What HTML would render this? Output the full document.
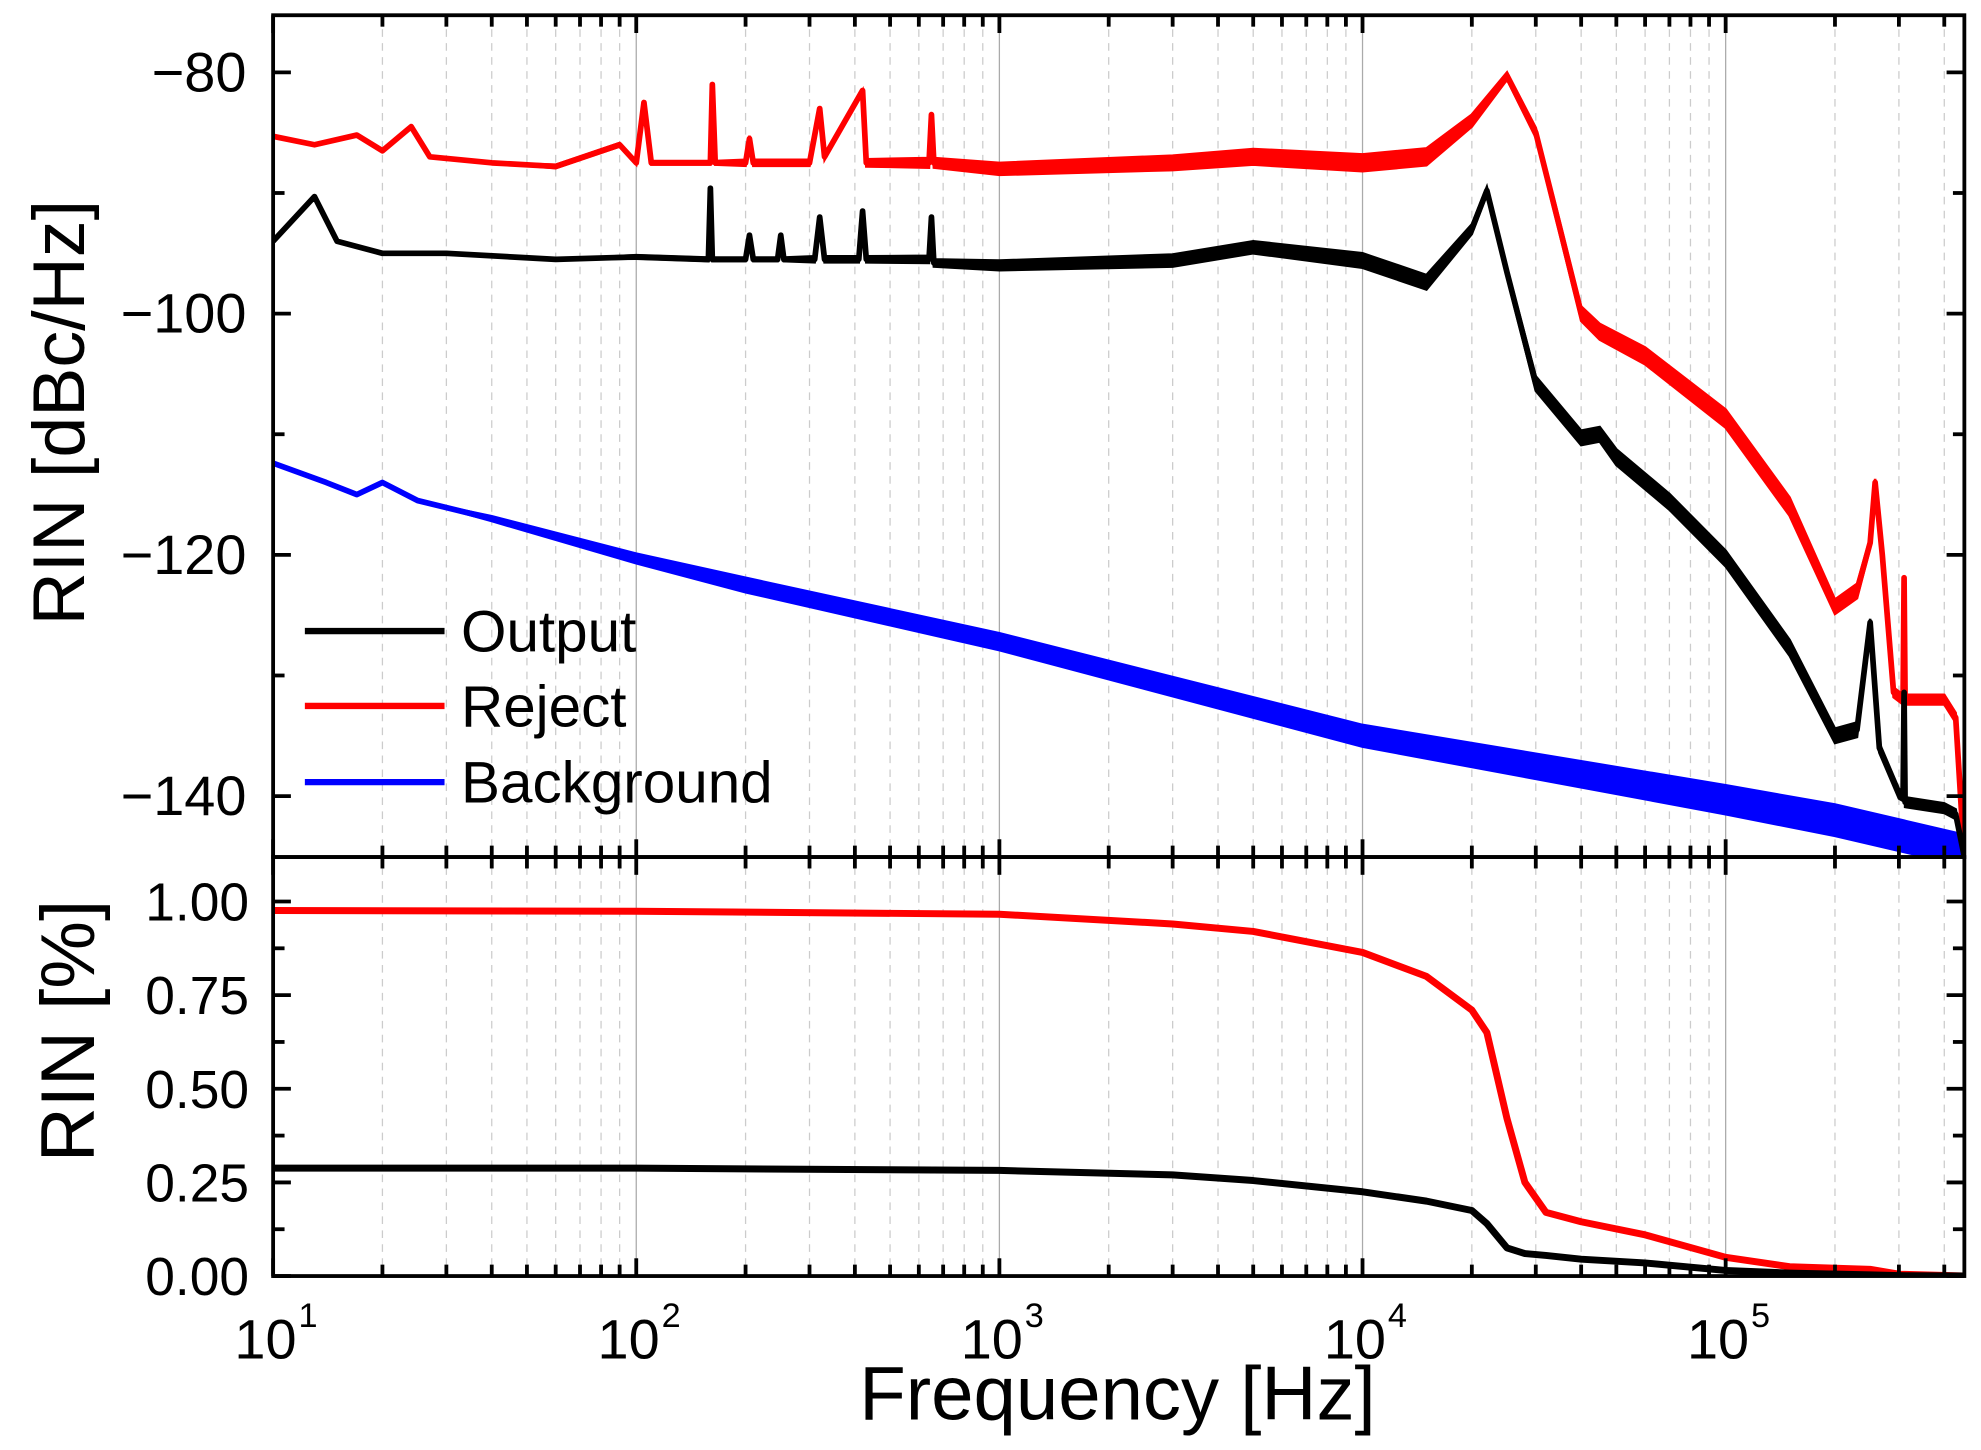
<!DOCTYPE html>
<html><head><meta charset="utf-8">
<style>
html,body{margin:0;padding:0;background:#fff;}
svg{display:block;font-family:"Liberation Sans",sans-serif;}
</style></head>
<body>
<svg id="chart" width="1981" height="1450" viewBox="0 0 1560 1142" xmlns="http://www.w3.org/2000/svg">
<g id="grid"></g>
<g id="series"></g>
<g id="axes"></g>
</svg>
<script>
// ---- data ----
const outFreq = [10,13,15,20,30,60,100,158,160,162,165,200,205,210,245,250,255,310,320,330,410,420,430,640,650,660,1000,3000,5000,10000,15000,20000,22000,25000,30000,40000,45000,50000,70000,100000,150000,200000,230000,250000,265000,300000,308000,310000,312000,400000,430000,454000];
const outDb   = [-94,-90.3,-94,-95,-95,-95.5,-95.3,-95.5,-89.6,-95.5,-95.5,-95.5,-93.5,-95.5,-95.5,-93.5,-95.5,-95.5,-92,-95.5,-95.5,-91.5,-95.5,-95.5,-92,-95.8,-96,-95.6,-94.5,-95.6,-97.4,-93,-89.8,-96.6,-105.8,-110.3,-110,-111.9,-115.6,-120.3,-127.7,-135,-134.5,-125.6,-136,-139.8,-140,-131.4,-140.5,-141,-141.5,-145];
const outSpread=[0,0,0,0,0,0,0.15,0.15,0,0.15,0.15,0.15,0,0.15,0.15,0,0.15,0.25,0,0.25,0.25,0,0.25,0.3,0,0.3,0.4,0.5,0.5,0.6,0.6,0.4,0.3,0.4,0.6,0.6,0.6,0.65,0.65,0.65,0.65,0.6,0.6,0.3,0.4,0.4,0.4,0,0.4,0.4,0.4,0];
const rejFreq = [10,13,17,20,24,27,40,60,90,100,105,110,160,162,165,200,205,210,300,320,330,420,430,640,650,660,1000,3000,5000,10000,15000,20000,25000,30000,35000,40000,45000,60000,100000,150000,200000,230000,250000,258000,270000,290000,308000,310000,312000,400000,430000,454000];
const rejDb   = [-85.3,-86,-85.2,-86.5,-84.5,-87,-87.5,-87.8,-86,-87.5,-82.5,-87.5,-87.5,-81,-87.5,-87.5,-85.5,-87.5,-87.5,-83,-87,-81.5,-87.5,-87.5,-83.5,-87.5,-88,-87.5,-87,-87.5,-87,-84,-80.3,-85,-93,-100,-101.5,-103.5,-108.7,-116,-124.3,-123,-119,-114,-120,-131.4,-132,-121.9,-132,-132,-133.5,-145];
const rejSpread=[0,0,0,0,0,0,0,0.15,0.15,0.15,0,0.15,0.15,0,0.15,0.25,0.25,0.25,0.25,0,0.25,0,0.3,0.4,0,0.4,0.5,0.6,0.65,0.7,0.7,0.5,0.3,0.4,0.5,0.6,0.65,0.7,0.75,0.75,0.6,0.6,0.4,0.3,0.4,0.4,0.4,0,0.4,0.4,0.4,0];
const bgFreq  = [10,14,17,20,25,40,100,200,1000,10000,100000,200000,454000];
const bgDb    = [-112.4,-114,-115,-114,-115.5,-117,-120.3,-122.5,-127.2,-135,-140.3,-142,-144.5];
const bgSpread= [0,0,0,0,0,0.2,0.4,0.6,0.7,0.9,1.2,1.3,1.3];
const fracFreq = [10,100,1000,3000,5000,10000,15000,20000,22000,25000,28000,32000,40000,60000,100000,150000,250000,300000,454000];
const rejFrac  = [0.976,0.974,0.966,0.94,0.92,0.864,0.80,0.71,0.65,0.42,0.25,0.17,0.145,0.11,0.05,0.025,0.018,0.005,0];
const outFrac  = [0.288,0.288,0.282,0.27,0.255,0.225,0.2,0.175,0.14,0.075,0.06,0.055,0.045,0.035,0.015,0.008,0.003,0.001,0];
const topTicks = [-80,-100,-120,-140];
const botTicks = [0,0.25,0.5,0.75,1.0];
const xDecades = [1,2,3,4,5];

// ---- axes ----
const L=215,R=1547,T=12,M=675,B=1005;
const xs = f => L + (Math.log10(f)-1)*286;
const yTop = d => 57 + (-80-d)*9.5;
const yBot = v => 1005 - v*295;
const NS="http://www.w3.org/2000/svg";
function mk(tag,parent,attrs){const e=document.createElementNS(NS,tag);for(const k in attrs)e.setAttribute(k,attrs[k]);parent.appendChild(e);return e;}
const grid=document.getElementById('grid'),ser=document.getElementById('series'),axes=document.getElementById('axes');

for(let d=1;d<=5;d++){for(let m=1;m<=9;m++){const f=m*Math.pow(10,d);if(f>454000)break;const x=xs(f);
  const gl=mk('line',grid,{x1:x,x2:x,y1:T,y2:B,stroke:m===1?'#aaa':'#ccc','stroke-width':1,'stroke-dasharray':m===1?'':'6,5'});
  
  
  const len=m===1?14:9;
  [[T,1],[M,-1],[M,1],[B,-1]].forEach(([y,s])=>{const t=mk('line',axes,{x1:x,x2:x,y1:y,y2:y+s*len,stroke:'#000','stroke-width':3});
    
    });
}}
xDecades.forEach(d=>{const x=xs(Math.pow(10,d));
  const t=mk('text',axes,{x:x-6,y:1070,'font-size':44,'text-anchor':'middle'});t.textContent='10';
  
  
  const s=mk('text',axes,{x:x+20,y:1045,'font-size':27});s.textContent=String(d);
  
  });

for(let v=-80;v>=-140;v-=10){const y=yTop(v);const maj=v%20===0;
  [[L,1],[R,-1]].forEach(([x,s])=>{const t=mk('line',axes,{x1:x,x2:x+s*(maj?14:9),y1:y,y2:y,stroke:'#000','stroke-width':3});
   
   });}
topTicks.forEach(v=>{const t=mk('text',axes,{x:194,y:yTop(v)+15,'font-size':44,'text-anchor':'end'});t.textContent='\u2212'+Math.abs(v);
  
  });
for(let v=0;v<=1.0001;v+=0.125){const y=yBot(v);const maj=Math.abs(v*4-Math.round(v*4))<1e-6;
  [[L,1],[R,-1]].forEach(([x,s])=>{const t=mk('line',axes,{x1:x,x2:x+s*(maj?14:9),y1:y,y2:y,stroke:'#000','stroke-width':3});
   
   });}
botTicks.forEach(v=>{const t=mk('text',axes,{x:196,y:yBot(v)+15,'font-size':42,'text-anchor':'end'});t.textContent=v.toFixed(2);
  
  });

const f1=mk('rect',axes,{x:L,y:T,width:R-L,height:M-T,fill:'none',stroke:'#000','stroke-width':3});


const f2=mk('rect',axes,{x:L,y:M,width:R-L,height:B-M,fill:'none',stroke:'#000','stroke-width':3});



const clipD=mk('defs',ser,{});
const cp=mk('clipPath',clipD,{id:'ct'});mk('rect',cp,{x:L,y:T,width:R-L,height:M-T});
const cb=mk('clipPath',clipD,{id:'cb'});mk('rect',cb,{x:L,y:M,width:R-L,height:B-M});
function band(fr,db,sp,col,name){
  const up=fr.map((f,i)=>xs(f)+','+yTop(db[i]+sp[i])).join(' ');
  const dn=fr.map((f,i)=>xs(f)+','+yTop(db[i]-sp[i])).reverse().join(' ');
  const p=mk('polygon',ser,{points:up+' '+dn,fill:col,stroke:col,'stroke-width':2,'clip-path':'url(#ct)'});
  
  
  const l=mk('polyline',ser,{points:fr.map((f,i)=>xs(f)+','+yTop(db[i])).join(' '),fill:'none',stroke:col,'stroke-width':4.5,'stroke-linejoin':'round','clip-path':'url(#ct)'});
  
  
}
band(bgFreq,bgDb,bgSpread,'#0000ff','background');
band(rejFreq,rejDb,rejSpread,'#ff0000','reject');
band(outFreq,outDb,outSpread,'#000000','output');
function bl(vals,col,name){const l=mk('polyline',ser,{points:fracFreq.map((f,i)=>xs(f)+','+yBot(vals[i])).join(' '),fill:'none',stroke:col,'stroke-width':5.5,'stroke-linejoin':'round','clip-path':'url(#cb)'});
  
  }
bl(rejFrac,'#ff0000','reject-fraction-line');
bl(outFrac,'#000000','output-fraction-line');

[['Output','#000',497],['Reject','#ff0000',556],['Background','#0000ff',616]].forEach(([n,c,y])=>{
  const g=mk('g',axes,{});
  
  
  mk('line',g,{x1:240,x2:350,y1:y,y2:y,stroke:c,'stroke-width':5});
  const t=mk('text',g,{x:363,y:y+16,'font-size':46});t.textContent=n;});

const t1=mk('text',axes,{x:0,y:0,'font-size':58,'text-anchor':'middle',transform:'translate(66,325) rotate(-90)'});t1.textContent='RIN [dBc/Hz]';


const t2=mk('text',axes,{x:0,y:0,'font-size':60,'text-anchor':'middle',transform:'translate(74,812) rotate(-90)'});t2.textContent='RIN [%]';


const t3=mk('text',axes,{x:880,y:1118,'font-size':60,'text-anchor':'middle'});t3.textContent='Frequency [Hz]';


</script>
</body></html>
